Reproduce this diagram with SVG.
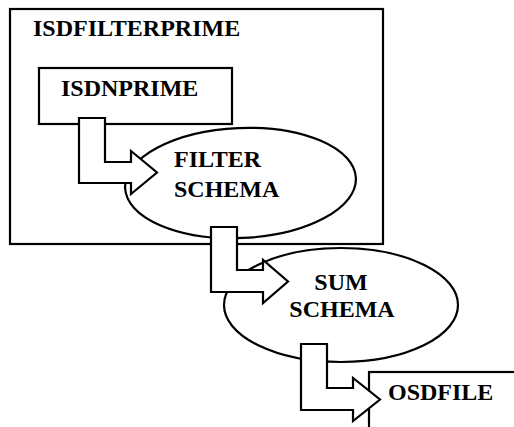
<svg xmlns="http://www.w3.org/2000/svg" width="514" height="427" viewBox="0 0 514 427">
<style>
.box{fill:#fff;stroke:#000;stroke-width:2.2}
.lbl{font-family:"Liberation Serif","Times New Roman",serif;font-weight:bold;font-size:24px;fill:#000}
.arw{fill:#fff;stroke:#000;stroke-width:2.2;stroke-linejoin:miter}
</style>
<rect width="514" height="427" fill="#fff"/>
<g id="isdfilterprime">
<rect class="box" x="10" y="9" width="373" height="235"/>
<text class="lbl" x="33" y="36">ISDFILTERPRIME</text>
</g>
<g id="isdnprime">
<rect class="box" x="39" y="68" width="193" height="56"/>
<text class="lbl" x="61" y="96">ISDNPRIME</text>
</g>
<g id="filter-schema">
<ellipse class="box" cx="240.5" cy="183" rx="115.5" ry="55" transform="rotate(-2.5 240.5 183)"/>
<text class="lbl" x="174" y="167">FILTER</text>
<text class="lbl" x="174" y="197">SCHEMA</text>
</g>
<g id="sum-schema">
<ellipse class="box" cx="341" cy="305" rx="117" ry="57"/>
<text class="lbl" x="341" y="290" text-anchor="middle">SUM</text>
<text class="lbl" x="342" y="317" text-anchor="middle">SCHEMA</text>
</g>
<g id="osdfile">
<rect class="box" x="369" y="372" width="170" height="80"/>
<text class="lbl" x="388" y="400">OSDFILE</text>
</g>
<g id="connectors">
<path class="arw" d="M79,118 H105 V162 H131 V151 L157,172.5 L131,194 V183 H79 Z"/>
<path class="arw" d="M211,227 H237 V270 H263 V260 L288,281.5 L263,303 V292 H211 Z"/>
<path class="arw" d="M301,344 H327 V388 H353 V378 L380,399.5 L353,421 V410 H301 Z"/>
</g>
</svg>
